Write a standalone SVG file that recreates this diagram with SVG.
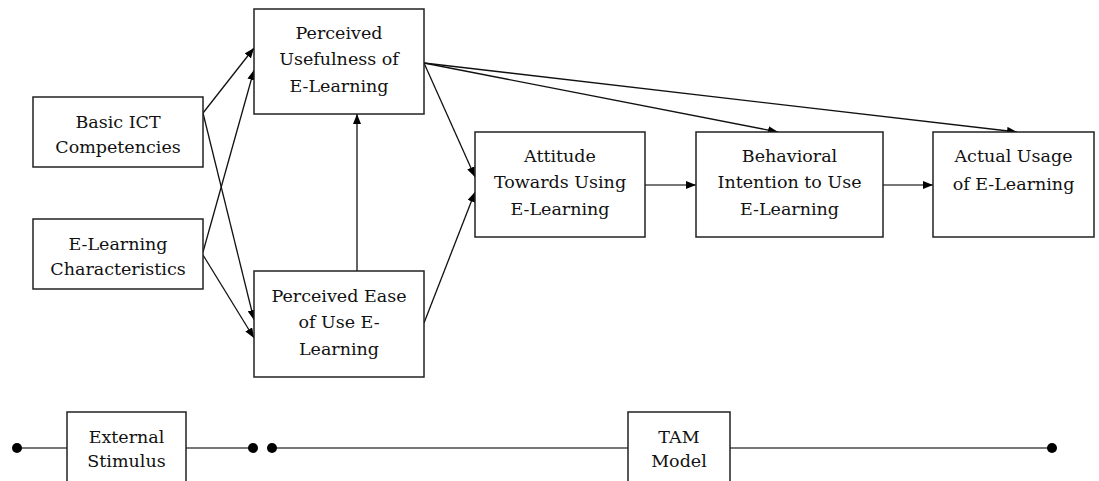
<svg xmlns="http://www.w3.org/2000/svg" width="1099" height="481" viewBox="0 0 1099 481" font-family="'DejaVu Serif', serif">
<style>
.box{fill:#fff;stroke:#222;stroke-width:1.5}
.t{font-size:17.5px;fill:#111;text-anchor:middle}
.c{stroke:#111;stroke-width:1.3;fill:none}
.g{stroke:#777;stroke-width:2.2;fill:none}
.dot{fill:#000}
</style>
<defs>
<marker id="ah" viewBox="0 0 10 8" refX="10" refY="4" markerWidth="10" markerHeight="8" markerUnits="userSpaceOnUse" orient="auto">
<path d="M0,0 L10,4 L0,8 z" fill="#000"/>
</marker>
</defs>
<rect width="1099" height="481" fill="#fff"/>
<g id="connectors">
<line class="c" x1="203" y1="113" x2="254" y2="48" marker-end="url(#ah)"/>
<line class="c" x1="203" y1="252" x2="254" y2="70" marker-end="url(#ah)"/>
<line class="c" x1="203" y1="113" x2="254" y2="320" marker-end="url(#ah)"/>
<line class="c" x1="203" y1="255" x2="254" y2="338" marker-end="url(#ah)"/>
<line class="c" x1="357" y1="271" x2="357" y2="114" marker-end="url(#ah)"/>
<line class="c" x1="424" y1="63" x2="475" y2="177" marker-end="url(#ah)"/>
<line class="c" x1="424" y1="323" x2="475" y2="192" marker-end="url(#ah)"/>
<line class="c" x1="424" y1="63" x2="778" y2="132" marker-end="url(#ah)"/>
<line class="c" x1="424" y1="63" x2="1017" y2="132" marker-end="url(#ah)"/>
<line class="g" x1="645" y1="185" x2="696" y2="185" marker-end="url(#ah)"/>
<line class="g" x1="883" y1="185" x2="933" y2="185" marker-end="url(#ah)"/>
<line class="g" x1="17" y1="448" x2="253" y2="448"/>
<line class="g" x1="272" y1="448" x2="1052" y2="448"/>
<circle class="dot" cx="17" cy="448" r="5"/>
<circle class="dot" cx="253" cy="448" r="5"/>
<circle class="dot" cx="272" cy="448" r="5"/>
<circle class="dot" cx="1052" cy="448" r="5"/>
</g>
<g id="pu">
<rect class="box" x="254" y="9" width="170" height="105"/>
<text class="t" x="339" y="39">Perceived</text>
<text class="t" x="339" y="65">Usefulness of</text>
<text class="t" x="339" y="92">E-Learning</text>
</g>
<g id="ict">
<rect class="box" x="33" y="97" width="170" height="70"/>
<text class="t" x="118" y="128">Basic ICT</text>
<text class="t" x="118" y="153">Competencies</text>
</g>
<g id="elc">
<rect class="box" x="33" y="219" width="170" height="70"/>
<text class="t" x="118" y="250">E-Learning</text>
<text class="t" x="118" y="275">Characteristics</text>
</g>
<g id="peou">
<rect class="box" x="254" y="271" width="170" height="106"/>
<text class="t" x="339" y="302">Perceived Ease</text>
<text class="t" x="339" y="328">of Use E-</text>
<text class="t" x="339" y="355">Learning</text>
</g>
<g id="att">
<rect class="box" x="475" y="132" width="170" height="105"/>
<text class="t" x="560" y="162">Attitude</text>
<text class="t" x="560" y="188">Towards Using</text>
<text class="t" x="560" y="215">E-Learning</text>
</g>
<g id="bi">
<rect class="box" x="696" y="132" width="187" height="105"/>
<text class="t" x="789.5" y="162">Behavioral</text>
<text class="t" x="789.5" y="188">Intention to Use</text>
<text class="t" x="789.5" y="215">E-Learning</text>
</g>
<g id="au">
<rect class="box" x="933" y="132" width="161" height="105"/>
<text class="t" x="1013.5" y="162">Actual Usage</text>
<text class="t" x="1013.5" y="190">of E-Learning</text>
</g>
<g id="ext">
<rect class="box" x="67" y="412" width="119" height="80"/>
<text class="t" x="126.5" y="443">External</text>
<text class="t" x="126.5" y="467">Stimulus</text>
</g>
<g id="tam">
<rect class="box" x="628" y="412" width="102" height="80"/>
<text class="t" x="679" y="443">TAM</text>
<text class="t" x="679" y="467">Model</text>
</g>
</svg>
